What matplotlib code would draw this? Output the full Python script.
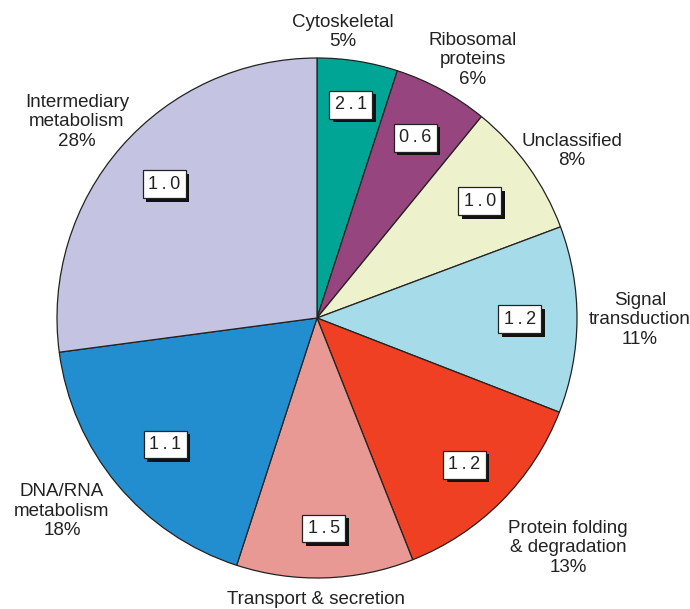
import matplotlib.pyplot as plt
import matplotlib.patheffects as pe
import numpy as np

plt.rcParams['font.family'] = ['Liberation Sans', 'DejaVu Sans']

categories = ["Cytoskeletal\n5%", "Ribosomal\nproteins\n6%", "Unclassified\n8%",
              "Signal\ntransduction\n11%", "Protein folding\n& degradation\n13%",
              "Transport & secretion", "DNA/RNA\nmetabolism\n18%",
              "Intermediary\nmetabolism\n28%"]
# wedge sizes as drawn (labels are rounded)
shares = [5, 5.9, 8.4, 11.6, 13.1, 11, 17.9, 27.1]
ratios = ["2.1", "0.6", "1.0", "1.2", "1.2", "1.5", "1.1", "1.0"]
colors = ["#00a595", "#97457f", "#eef2cc", "#a6dbea", "#ef4023",
          "#e89994", "#228ecf", "#c5c3e2"]

# where the category labels sit, in figure pixels (from top-left)
label_px = [(343, 32), (473, 60), (572, 151), (640, 320), (568, 548),
            (316, 600), (62, 511), (77, 122)]
box_dist = [0.83, 0.79, 0.77, 0.78, 0.8, 0.81, 0.76, 0.78]

W, H = 690, 609
cx, cy, R = 317, 318, 260

fig = plt.figure(figsize=(W / 100, H / 100), dpi=100)
ax = fig.add_axes([0, 0, 1, 1])

wedges, _ = ax.pie(shares, colors=colors, startangle=90, counterclock=False,
                   wedgeprops=dict(edgecolor='#222222', linewidth=0.9))
ax.set_xlim(-cx / R, (W - cx) / R)
ax.set_ylim(-(H - cy) / R, cy / R)
ax.axis('off')

for w, val, d in zip(wedges, ratios, box_dist):
    ang = np.radians((w.theta1 + w.theta2) / 2)
    t = ax.text(d * np.cos(ang), d * np.sin(ang), '\u2009'.join(val),
                ha='center', va='center', fontsize=13, color='#222222',
                bbox=dict(boxstyle='square,pad=0.3', fc='white', ec='#222222', lw=0.9))
    t.get_bbox_patch().set_path_effects([
        pe.SimplePatchShadow(offset=(2.5, -2.5), shadow_rgbFace='#111111', alpha=1),
        pe.Normal()])

for lab, (px, py) in zip(categories, label_px):
    fig.text(px / W, 1 - py / H, lab, ha='center', va='center', fontsize=13.5,
             color='#222222', linespacing=1.2)

fig.savefig('out.png', dpi=100)
